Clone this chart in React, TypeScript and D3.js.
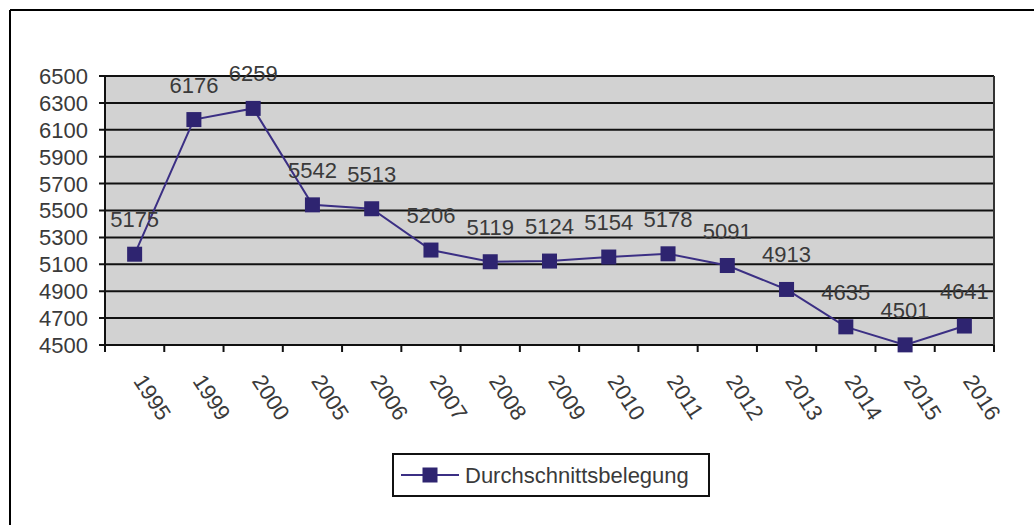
import React from "react";
import * as d3 from "d3";

const categories = ["1995", "1999", "2000", "2005", "2006", "2007", "2008", "2009", "2010", "2011", "2012", "2013", "2014", "2015", "2016"];
const values = [5175, 6176, 6259, 5542, 5513, 5206, 5119, 5124, 5154, 5178, 5091, 4913, 4635, 4501, 4641];
const yTicks = [4500, 4700, 4900, 5100, 5300, 5500, 5700, 5900, 6100, 6300, 6500];
const seriesName = "Durchschnittsbelegung";

const W = 1034;
const H = 525;
const plot = { left: 105, right: 994, top: 76, bottom: 345 };
const FONT = "'Liberation Sans', Arial, sans-serif";
const FS = 22;
const TEXT = "#3a3a3a";
const LINE = "#3b2f84";
const MARK = "#2e2470";

export default function App() {
  const x = d3.scaleBand<string>().domain(categories).range([plot.left, plot.right]).padding(0);
  const y = d3.scaleLinear().domain([4500, 6500]).range([plot.bottom, plot.top]);
  const cx = (c: string) => (x(c) as number) + x.bandwidth() / 2;
  const line = d3
    .line<number>()
    .x((_, i) => cx(categories[i]))
    .y((d) => y(d));
  const boundaries = categories.map((c) => x(c) as number).concat([plot.right]);
  const ms = 15;

  return (
    <svg width={W} height={H} style={{ position: "fixed", left: 0, top: 0, background: "#fff" }} fontFamily={FONT}>
      {/* outer frame (top and left) */}
      <line x1={10} x2={W} y1={10} y2={10} stroke="#000" strokeWidth={2} />
      <line x1={10} x2={10} y1={10} y2={H} stroke="#000" strokeWidth={2} />

      {/* plot background */}
      <rect x={plot.left} y={plot.top} width={plot.right - plot.left} height={plot.bottom - plot.top} fill="#d2d2d2" />

      {/* gridlines */}
      {yTicks.map((t) => (
        <line key={t} x1={plot.left - 6} x2={plot.right} y1={y(t)} y2={y(t)} stroke="#111" strokeWidth={2} />
      ))}
      {/* right border */}
      <line x1={plot.right} x2={plot.right} y1={plot.top} y2={plot.bottom} stroke="#333" strokeWidth={2} />
      {/* left axis */}
      <line x1={plot.left} x2={plot.left} y1={plot.top} y2={plot.bottom + 7} stroke="#111" strokeWidth={2} />
      {/* x ticks */}
      {boundaries.map((b, i) => (
        <line key={i} x1={b} x2={b} y1={plot.bottom} y2={plot.bottom + 7} stroke="#111" strokeWidth={2} />
      ))}

      {/* y labels */}
      {yTicks.map((t) => (
        <text key={t} x={88} y={y(t)} dy="0.36em" textAnchor="end" fontSize={FS} fill={TEXT}>
          {t}
        </text>
      ))}

      {/* x labels */}
      {categories.map((c) => (
        <text
          key={c}
          transform={`translate(${cx(c) - 2},${plot.bottom + 36}) rotate(57)`}
          fontSize={FS}
          fill={TEXT}
        >
          {c}
        </text>
      ))}

      {/* series line */}
      <path d={line(values) as string} fill="none" stroke={LINE} strokeWidth={2} />
      {values.map((v, i) => (
        <rect key={i} x={cx(categories[i]) - ms / 2} y={y(v) - ms / 2} width={ms} height={ms} fill={MARK} />
      ))}

      {/* data labels */}
      {values.map((v, i) => (
        <text key={i} x={cx(categories[i])} y={y(v) - 27} textAnchor="middle" fontSize={FS} fill={TEXT}>
          {v}
        </text>
      ))}

      {/* legend */}
      <rect x={393} y={454} width={316} height={42} fill="#fff" stroke="#111" strokeWidth={2} />
      <line x1={401} x2={459} y1={475} y2={475} stroke={LINE} strokeWidth={2} />
      <rect x={430 - ms / 2} y={475 - ms / 2} width={ms} height={ms} fill={MARK} />
      <text x={465} y={483} fontSize={FS} fill={TEXT}>
        {seriesName}
      </text>
    </svg>
  );
}
